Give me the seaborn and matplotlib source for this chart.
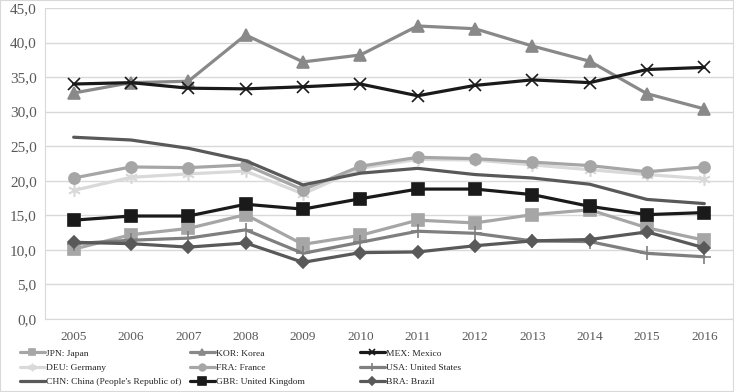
import numpy as np
import pandas as pd
import matplotlib
matplotlib.use("Agg")
import matplotlib.pyplot as plt
import seaborn as sns
from matplotlib.patches import Rectangle
from matplotlib.ticker import FuncFormatter

# 数据
years = [2005, 2006, 2007, 2008, 2009, 2010, 2011, 2012, 2013, 2014, 2015, 2016]

jpn = [10.1, 12.2, 13.1, 15.1, 10.8, 12.1, 14.3, 13.9, 15.1, 15.8, 13.2, 11.4]
kor = [32.7, 34.2, 34.4, 41.1, 37.2, 38.2, 42.4, 42.0, 39.5, 37.3, 32.6, 30.4]
mex = [34.0, 34.2, 33.4, 33.3, 33.6, 34.0, 32.3, 33.8, 34.6, 34.2, 36.1, 36.4]
deu = [18.6, 20.5, 21.0, 21.4, 18.1, 21.8, 23.1, 23.0, 22.3, 21.6, 20.9, 20.3]
fra = [20.4, 22.0, 21.9, 22.3, 18.7, 22.1, 23.4, 23.2, 22.7, 22.2, 21.3, 22.0]
usa = [10.9, 11.4, 11.7, 12.9, 9.5, 11.1, 12.7, 12.4, 11.3, 11.2, 9.5, 9.0]
chn = [26.3, 25.9, 24.7, 22.9, 19.4, 21.1, 21.8, 20.9, 20.4, 19.5, 17.3, 16.7]
gbr = [14.3, 14.9, 14.9, 16.6, 15.9, 17.4, 18.8, 18.8, 18.0, 16.3, 15.1, 15.4]
bra = [11.1, 10.9, 10.4, 11.0, 8.2, 9.6, 9.7, 10.6, 11.3, 11.5, 12.6, 10.3]

labels = ["JPN: Japan", "KOR: Korea", "MEX: Mexico",
          "DEU: Germany", "FRA: France", "USA: United States",
          "CHN: China (People's Republic of)", "GBR: United Kingdom", "BRA: Brazil"]
values = [jpn, kor, mex, deu, fra, usa, chn, gbr, bra]

# 样式
colors = ["#a6a6a6", "#898989", "#1a1a1a", "#d9d9d9", "#a6a6a6",
          "#7f7f7f", "#595959", "#1a1a1a", "#595959"]
markers = ["s", "^", "x", (6, 2, 0), "o", "+", None, "s", "D"]
msizes = [8, 8, 8, 9, 8, 10, 0, 9, 6.5]

sns.set_style("white")
plt.rcParams['font.family'] = ['Liberation Serif', 'DejaVu Serif']

fig = plt.figure(figsize=(7.34, 3.92), dpi=100)
ax = fig.add_axes([45 / 734, 1 - 319 / 392, 688 / 734, 311 / 392])

handles = []
for lab, vals, c, m, ms in zip(labels, values, colors, markers, msizes):
    df = pd.DataFrame({"year": years, "value": vals})
    sns.lineplot(data=df, x="year", y="value", ax=ax, color=c, lw=2.3,
                 marker=m, markersize=ms, markeredgecolor=c,
                 markeredgewidth=1.2, label=lab, legend=False)
    handles.append(ax.lines[-1])

ax.set_xlim(2004.5, 2016.5)
ax.set_ylim(0, 45)
ax.set_xticks(years)
ax.set_yticks(np.arange(0, 46, 5))
ax.yaxis.set_major_formatter(FuncFormatter(lambda v, p: f"{v:.1f}".replace(".", ",")))
ax.grid(axis="y", color="#d9d9d9", lw=1)
ax.set_axisbelow(True)
ax.set_xlabel("")
ax.set_ylabel("")
for s in ["top", "right"]:
    ax.spines[s].set_visible(False)
ax.spines["left"].set_color("#d9d9d9")
ax.spines["bottom"].set_color("#d9d9d9")
ax.tick_params(axis="both", length=0, colors="#595959")
ax.tick_params(axis="x", pad=9, labelsize=9.5)
ax.tick_params(axis="y", pad=6, labelsize=11)

# 图例：三列，每列一个图例
col_x = [20, 190, 360]
for c in range(3):
    idx = [c, c + 3, c + 6]
    fig.legend([handles[i] for i in idx], [labels[i] for i in idx],
               loc="upper left", bbox_to_anchor=(col_x[c] / 734, 1 - 349 / 392),
               frameon=False, fontsize=6.8, handlelength=2.6, handletextpad=0.1,
               labelspacing=0.6, borderpad=0, borderaxespad=0, markerscale=0.6)

fig.patches.append(Rectangle((0, 0), 1, 1, transform=fig.transFigure,
                             fill=False, edgecolor="#d9d9d9", lw=1.5))

fig.savefig("out.png", dpi=100)
